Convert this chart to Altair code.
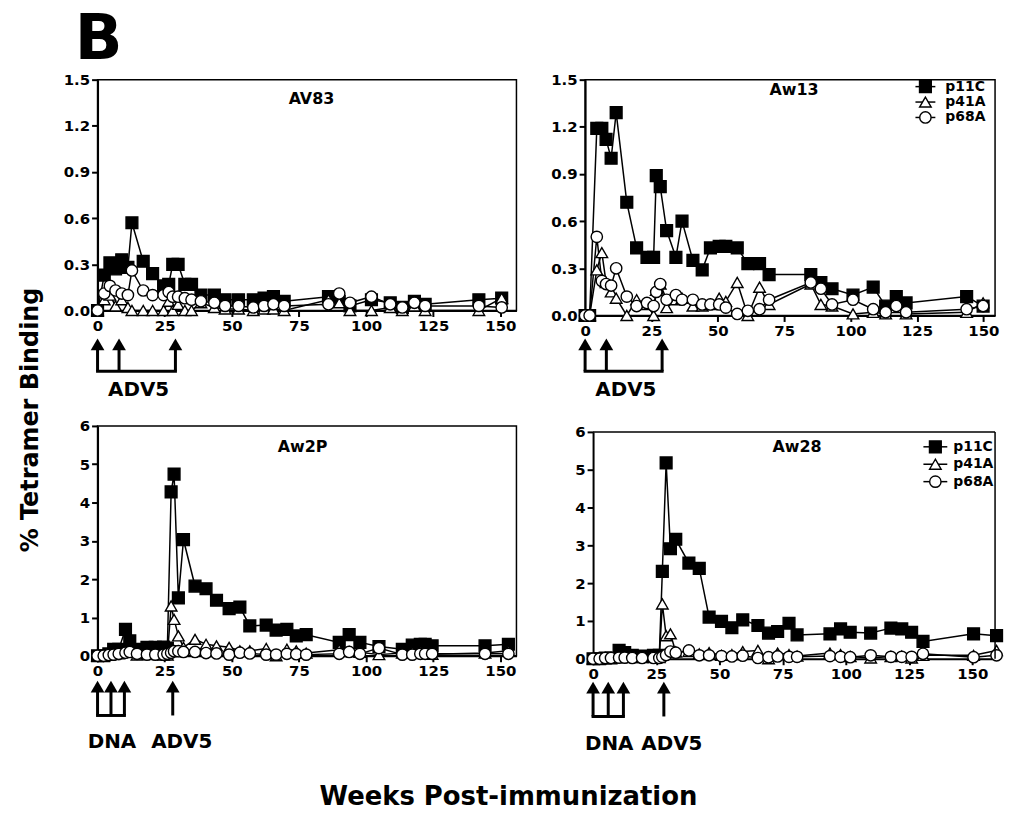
import altair as alt
import pandas as pd

FONT = "DejaVu Sans"
SERIES = ["p11C", "p41A", "p68A"]
SHAPES = ["square", "triangle-up", "circle"]
FILLS = ["black", "white", "white"]
SIZES = [140, 130, 110]
WEEK_TICKS = [0, 25, 50, 75, 100, 125, 150]

# ---------------- AV83 ----------------
av83_weeks = [0, 2.5, 4.6, 6.7, 9.0, 11.3, 12.8, 17.0, 20.5, 24.6, 26.5, 28.0, 30.0, 32.5, 35.0,
              38.5, 43.5, 47.5, 52.5, 58.0, 62.0, 65.5, 69.5, 86.0, 90.0, 94.0, 102.0, 109.0,
              113.5, 118.0, 122.0, 142.0, 150.5]
av83_p11c = [0.0, 0.23, 0.31, 0.27, 0.33, 0.28, 0.57, 0.32, 0.24, 0.16, 0.17, 0.30, 0.30, 0.17, 0.17,
             0.10, 0.10, 0.07, 0.07, 0.07, 0.08, 0.09, 0.06, 0.09, 0.06, 0.03, 0.07, 0.05, 0.02,
             0.06, 0.04, 0.07, 0.08]
av83_p41a = [0.0, 0.07, 0.10, 0.03, 0.07, 0.02, 0.0, 0.0, 0.0, 0.0, 0.06, 0.0, 0.04, 0.0, 0.0,
             0.05, 0.02, 0.01, 0.01, 0.0, 0.01, 0.01, 0.0, 0.07, 0.05, 0.0, 0.0, 0.02, 0.0,
             0.03, 0.0, 0.0, 0.08]
av83_p68a = [0.0, 0.11, 0.16, 0.13, 0.11, 0.10, 0.26, 0.13, 0.10, 0.10, 0.12, 0.09, 0.09, 0.08, 0.07,
             0.06, 0.05, 0.03, 0.03, 0.02, 0.03, 0.04, 0.03, 0.04, 0.11, 0.05, 0.09, 0.04, 0.02,
             0.05, 0.03, 0.03, 0.02]

# ---------------- Aw13 ----------------
aw13_weeks = [0, 1.7, 4.4, 6.3, 7.9, 9.8, 11.7, 15.7, 19.4, 23.3, 25.8, 26.8, 28.3, 30.7, 34.2,
              36.5, 40.6, 44.1, 47.2, 50.5, 53.0, 57.3, 61.3, 65.7, 69.3, 85.0, 88.8, 93.0, 100.9,
              108.5, 113.2, 117.2, 120.9, 143.7, 149.9]
aw13_p11c = [0, 0, 1.19, 1.19, 1.12, 1.0, 1.29, 0.72, 0.43, 0.37, 0.37, 0.89, 0.82, 0.54, 0.37,
             0.60, 0.35, 0.29, 0.43, 0.44, 0.44, 0.43, 0.33, 0.33, 0.26, 0.26, 0.21, 0.17, 0.13,
             0.18, 0.06, 0.12, 0.08, 0.12, 0.06]
aw13_p41a = [0, 0, 0.29, 0.40, 0.21, 0.15, 0.11, 0.0, 0.10, 0.07, 0.0, 0.16, 0.20, 0.05, 0.10,
             0.11, 0.06, 0.06, 0.07, 0.11, 0.09, 0.21, 0.0, 0.18, 0.07, 0.20, 0.07, 0.06, 0.01,
             0.02, 0.01, 0.05, 0.01, 0.02, 0.08]
aw13_p68a = [0, 0, 0.50, 0.22, 0.20, 0.19, 0.30, 0.12, 0.06, 0.08, 0.06, 0.15, 0.20, 0.10, 0.13,
             0.10, 0.10, 0.07, 0.07, 0.07, 0.05, 0.01, 0.03, 0.04, 0.10, 0.21, 0.17, 0.07, 0.10,
             0.04, 0.02, 0.06, 0.02, 0.04, 0.06]

# ---------------- Aw2P ----------------
aw2p_weeks = [0, 2.3, 4.2, 6.0, 7.9, 10.4, 12.0, 14.7, 18.4, 21.5, 24.6, 26.0, 27.4, 28.5, 30.1,
              32.0, 36.3, 40.4, 44.3, 49.0, 53.0, 56.7, 62.8, 66.5, 70.5, 74.0, 77.7, 90.0, 93.7,
              97.7, 104.8, 113.5, 117.2, 120.2, 122.0, 124.6, 144.3, 153.0]
aw2p_p11c = [0, 0, 0.05, 0.17, 0.17, 0.69, 0.39, 0.17, 0.22, 0.22, 0.23, 0.20, 4.28, 4.74, 1.51,
             3.03, 1.82, 1.75, 1.45, 1.23, 1.27, 0.78, 0.80, 0.67, 0.69, 0.52, 0.55, 0.35, 0.55,
             0.35, 0.24, 0.17, 0.28, 0.30, 0.30, 0.26, 0.26, 0.30]
aw2p_p41a = [0, 0, 0.02, 0.03, 0.05, 0.12, 0.10, 0.02, 0.05, 0.03, 0.02, 0.02, 1.30, 0.95, 0.52,
             0.22, 0.43, 0.30, 0.26, 0.22, 0.13, 0.13, 0.19, 0.0, 0.17, 0.13, 0.07, 0.16, 0.11,
             0.09, 0.03, 0.07, 0.10, 0.12, 0.10, 0.04, 0.07, 0.13]
aw2p_p68a = [0, 0, 0.02, 0.03, 0.05, 0.08, 0.10, 0.05, 0.03, 0.03, 0.03, 0.05, 0.08, 0.12, 0.12,
             0.10, 0.10, 0.07, 0.06, 0.03, 0.08, 0.06, 0.03, 0.03, 0.05, 0.04, 0.03, 0.05, 0.10,
             0.05, 0.20, 0.03, 0.03, 0.05, 0.05, 0.05, 0.05, 0.05]

# ---------------- Aw28 ----------------
aw28_weeks = [0, 2.6, 4.8, 7.1, 10.3, 12.5, 15.5, 19.4, 23.9, 26.2, 27.4, 28.9, 30.6, 32.7, 37.9,
              42.0, 45.9, 50.8, 54.9, 59.2, 65.2, 69.4, 73.0, 77.5, 80.7, 93.7, 97.9, 101.7, 109.8,
              117.8, 122.1, 126.0, 130.5, 150.5, 159.6]
aw28_p11c = [0, 0, 0.02, 0.02, 0.22, 0.16, 0.09, 0.07, 0.09, 0.09, 2.31, 5.18, 2.91, 3.16, 2.53,
             2.39, 1.10, 0.99, 0.82, 1.03, 0.88, 0.68, 0.72, 0.94, 0.63, 0.66, 0.79, 0.70, 0.68,
             0.81, 0.79, 0.70, 0.46, 0.66, 0.61]
aw28_p41a = [0, 0, 0.02, 0.02, 0.05, 0.05, 0.03, 0.03, 0.03, 0.03, 1.45, 0.61, 0.66, 0.18, 0.19,
             0.13, 0.16, 0.09, 0.11, 0.19, 0.22, 0.0, 0.15, 0.11, 0.07, 0.15, 0.11, 0.06, 0.02,
             0.06, 0.07, 0.02, 0.09, 0.09, 0.22]
aw28_p68a = [0, 0, 0.02, 0.02, 0.03, 0.03, 0.02, 0.02, 0.02, 0.02, 0.05, 0.10, 0.19, 0.16, 0.22,
             0.09, 0.09, 0.07, 0.06, 0.08, 0.02, 0.04, 0.06, 0.05, 0.05, 0.07, 0.05, 0.04, 0.09,
             0.05, 0.05, 0.05, 0.13, 0.04, 0.09]

# immunization schedule (weeks)
adv5_top_weeks = [0, 8, 29]
dna_aw2p_weeks = [0, 5, 10]
adv5_aw2p_weeks = [28]
dna_aw28_weeks = [0, 6, 12]
adv5_aw28_weeks = [28]

TOP_TICKS = [0.0, 0.3, 0.6, 0.9, 1.2, 1.5]
BOT_TICKS = [0, 1, 2, 3, 4, 5, 6]


def long_df(weeks, s1, s2, s3):
    rows = []
    for name, vals in zip(SERIES, [s1, s2, s3]):
        for w, v in zip(weeks, vals):
            rows.append({"week": w, "value": v, "series": name})
    return pd.DataFrame(rows)


def text_layer(txt, x, y, size, align="center", baseline="middle", angle=0):
    kw = dict(font=FONT, fontWeight="bold", fontSize=size, align=align,
              baseline=baseline, color="black")
    if angle:
        kw["angle"] = angle
    return alt.Chart(pd.DataFrame({"t": [txt]})).mark_text(**kw).encode(
        x=alt.value(x), y=alt.value(y), text="t:N")


def panel(df, title, title_xy, w, h, xdom, ydom, yticks, yfmt,
          xrange=None, yrange=None, yoffset=0, legend=None, arrows=(), frame=None,
          extras=()):
    xs = dict(domain=xdom, nice=False, zero=False)
    if xrange:
        xs["range"] = xrange
    ys = dict(domain=ydom, nice=False)
    if yrange:
        ys["range"] = yrange
    xaxis = alt.Axis(values=WEEK_TICKS, title=None, labelFlush=False, labelOverlap=False, grid=False)
    yaxis = alt.Axis(values=yticks, format=yfmt, title=None, grid=False, labelOverlap=False,
                     offset=yoffset)

    def X(field):
        return alt.X(field, type="quantitative", scale=alt.Scale(**xs), axis=xaxis)

    def Y(field):
        return alt.Y(field, type="quantitative", scale=alt.Scale(**ys), axis=yaxis)

    shape = alt.Shape("series:N", scale=alt.Scale(domain=SERIES, range=SHAPES), legend=None)
    fill = alt.Fill("series:N", scale=alt.Scale(domain=SERIES, range=FILLS), legend=None)
    size = alt.Size("series:O", scale=alt.Scale(domain=SERIES, range=SIZES), legend=None)

    base = alt.Chart(df)
    layers = []
    layers.append(base.mark_line(color="black", strokeWidth=1.5).encode(
        x=X("week"), y=Y("value"), detail="series:N"))
    layers.append(base.mark_point(filled=True, stroke="black", strokeWidth=1.4, opacity=1).encode(
        x=X("week"), y=Y("value"), shape=shape, fill=fill, size=size))

    if frame:
        fx, fy = frame
        fdf = pd.DataFrame({"x0": [0], "x1": [fx], "y0": [0], "y1": [fy]})
        layers.append(alt.Chart(fdf).mark_rule(color="black", strokeWidth=1.5).encode(
            x=X("x0"), x2="x1", y=Y("y1")))
        layers.append(alt.Chart(fdf).mark_rule(color="black", strokeWidth=1.5).encode(
            x=X("x1"), y=Y("y0"), y2="y1"))

    layers.append(text_layer(title, title_xy[0], title_xy[1], 16))

    if legend:
        lx1, lx2, sx, tx, y0, dy = legend
        for i, s in enumerate(SERIES):
            ldf = pd.DataFrame({"series": [s]})
            yy = y0 + i * dy
            lc = alt.Chart(ldf)
            layers.append(lc.mark_rule(color="black", strokeWidth=1.5).encode(
                x=alt.value(lx1), x2=alt.value(lx2), y=alt.value(yy)))
            layers.append(lc.mark_point(filled=True, stroke="black", strokeWidth=1.4, opacity=1).encode(
                x=alt.value(sx), y=alt.value(yy), shape=shape, fill=fill, size=size))
            layers.append(lc.mark_text(font=FONT, fontWeight="bold", fontSize=14, align="left",
                                       baseline="middle", color="black").encode(
                x=alt.value(tx), y=alt.value(yy), text="series:N"))

    for weeks, tip, bracket, label, label_y, dx in arrows:
        adf = pd.DataFrame({"week": weeks})
        layers.append(alt.Chart(adf).mark_rule(color="black", strokeWidth=3).encode(
            x=X("week"), y=alt.value(tip + 10), y2=alt.value(bracket)))
        layers.append(alt.Chart(adf).mark_point(shape="triangle-up", filled=True, color="black",
                                                size=190, opacity=1).encode(
            x=X("week"), y=alt.value(tip + 6)))
        if len(weeks) > 1:
            bdf = pd.DataFrame({"start": [min(weeks)], "end": [max(weeks)]})
            layers.append(alt.Chart(bdf).mark_rule(color="black", strokeWidth=3, strokeCap="square").encode(
                x=X("start"), x2="end", y=alt.value(bracket)))
        ldf = pd.DataFrame({"week": [sum(weeks) / len(weeks)], "t": [label]})
        layers.append(alt.Chart(ldf).mark_text(font=FONT, fontWeight="bold", fontSize=20, dx=dx,
                                               align="center", baseline="middle", color="black").encode(
            x=X("week"), y=alt.value(label_y), text="t:N"))

    layers.extend(extras)
    ch = alt.layer(*layers).properties(width=w, height=h)
    return ch


df1 = long_df(av83_weeks, av83_p11c, av83_p41a, av83_p68a)
df2 = long_df(aw13_weeks, aw13_p11c, aw13_p41a, aw13_p68a)
df3 = long_df(aw2p_weeks, aw2p_p11c, aw2p_p41a, aw2p_p68a)
df4 = long_df(aw28_weeks, aw28_p11c, aw28_p41a, aw28_p68a)

p1 = panel(df1, "AV83", (215, 19), 421, 232, [0, 156], [0, 1.5], TOP_TICKS, ".1f",
           arrows=[(adv5_top_weeks, 260, 293, "ADV5", 312, 8)],
           extras=[text_layer("B", 1, -21, 63, baseline="alphabetic"),
                   text_layer("% Tetramer Binding", -67, 342, 24, angle=270)])
p2 = panel(df2, "Aw13", (210, 10), 412, 237, [0, 154.4], [0, 1.5], TOP_TICKS, ".1f",
           legend=(332, 352, 342, 362, 7, 15.5),
           arrows=[(adv5_top_weeks, 260, 293, "ADV5", 312, 8)])
p3 = panel(df3, "Aw2P", (206, 21), 421, 231, [0, 156], [0, 6], BOT_TICKS, "d",
           arrows=[(dna_aw2p_weeks, 256, 291, "DNA", 318, 1),
                   (adv5_aw2p_weeks, 256, 291, "ADV5", 318, 9)],
           extras=[text_layer("Weeks Post-immunization", 413, 373, 26)])
p4 = panel(df4, "Aw28", (213, 21), 412, 234, [0, 159], [0, 6], BOT_TICKS, "d",
           xrange=[8, 412], yrange=[234, 6], yoffset=-8, frame=(159, 6),
           legend=(340, 364, 352, 370, 21, 17.5),
           arrows=[(dna_aw28_weeks, 257, 292, "DNA", 320, 1),
                   (adv5_aw28_weeks, 257, 292, "ADV5", 320, 8)])
p4 = p4.properties(view=alt.ViewBackground(stroke="transparent"))

chart = alt.concat(p1, p2, p3, p4, columns=2, spacing={"row": 111, "column": 69},
                   bounds="flush").properties(
    padding={"left": 10, "top": -2, "right": 0, "bottom": 0},
    background="white",
).configure_view(stroke="black", strokeWidth=1.5).configure_axis(
    domainColor="black", domainWidth=2, tickColor="black", tickWidth=2, tickSize=6,
    labelFont=FONT, labelFontSize=15, labelFontWeight="bold", labelColor="black",
    labelPadding=2, grid=False)

chart.save("out.html", embed_options={"renderer": "svg", "actions": False})
